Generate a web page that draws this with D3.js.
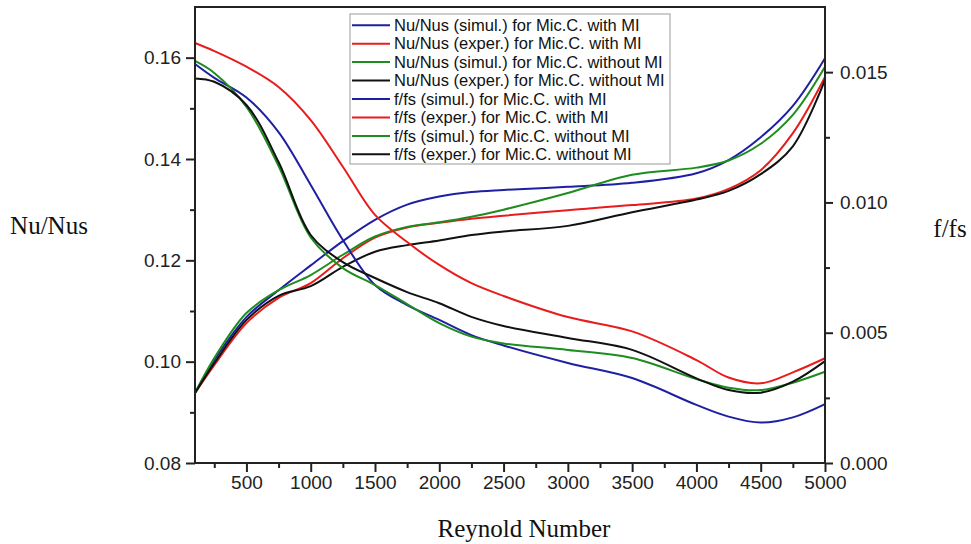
<!DOCTYPE html>
<html>
<head>
<meta charset="utf-8">
<script src="https://cdn.jsdelivr.net/npm/d3@7"></script>
<style>
  html, body { margin: 0; padding: 0; background: #fff; }
  svg { display: block; }
  .tick text { font-family: "Liberation Sans", Arial, sans-serif; font-size: 19px; fill: #222; }
</style>
</head>
<body>
<svg id="chart" width="971" height="544"></svg>
<script>
// ---- Data ----
const reynolds = [100, 250, 500, 750, 1000, 1250, 1500, 1750, 2000, 2250, 2500, 3000, 3500, 4000, 4250, 4500, 4750, 5000];

// Nu/Nus (left axis)
const nuSimWithMI    = [0.0938, 0.1003, 0.1088, 0.1141, 0.1190, 0.1238, 0.1280, 0.1310, 0.1326, 0.1335, 0.1339, 0.1345, 0.1353, 0.1372, 0.1398, 0.1443, 0.1505, 0.1599];
const nuExpWithMI    = [0.0938, 0.0993, 0.1076, 0.1126, 0.1155, 0.1204, 0.1245, 0.1265, 0.1274, 0.1282, 0.1288, 0.1299, 0.1309, 0.1322, 0.1341, 0.1378, 0.1451, 0.1562];
const nuSimWithoutMI = [0.0938, 0.1007, 0.1096, 0.1141, 0.1171, 0.1211, 0.1247, 0.1266, 0.1275, 0.1286, 0.1300, 0.1333, 0.1369, 0.1383, 0.1397, 0.1430, 0.1487, 0.1582];
const nuExpWithoutMI = [0.0938, 0.0997, 0.1082, 0.1130, 0.1149, 0.1187, 0.1217, 0.1230, 0.1239, 0.1250, 0.1257, 0.1268, 0.1295, 0.1320, 0.1337, 0.1370, 0.1425, 0.1556];

// f/fs (right axis)
const fSimWithMI    = [0.01531, 0.01478, 0.01403, 0.01270, 0.01067, 0.00856, 0.00683, 0.00606, 0.00549, 0.00491, 0.00451, 0.00384, 0.00326, 0.00223, 0.00178, 0.00155, 0.00175, 0.00226];
const fExpWithMI    = [0.01612, 0.01581, 0.01521, 0.01443, 0.01316, 0.01137, 0.00952, 0.00848, 0.00760, 0.00690, 0.00641, 0.00560, 0.00505, 0.00395, 0.00328, 0.00306, 0.00348, 0.00402];
const fSimWithoutMI = [0.01543, 0.01497, 0.01367, 0.01140, 0.00866, 0.00748, 0.00683, 0.00610, 0.00537, 0.00485, 0.00459, 0.00434, 0.00403, 0.00322, 0.00289, 0.00280, 0.00308, 0.00350];
const fExpWithoutMI = [0.01476, 0.01463, 0.01374, 0.01155, 0.00875, 0.00771, 0.00710, 0.00656, 0.00613, 0.00561, 0.00526, 0.00480, 0.00434, 0.00325, 0.00280, 0.00270, 0.00312, 0.00391];

const seriesNames = [
  "Nu/Nus (simul.) for Mic.C. with MI",
  "Nu/Nus (exper.) for Mic.C. with MI",
  "Nu/Nus (simul.) for Mic.C. without MI",
  "Nu/Nus (exper.) for Mic.C. without MI",
  "f/fs (simul.) for Mic.C. with MI",
  "f/fs (exper.) for Mic.C. with MI",
  "f/fs (simul.) for Mic.C. without MI",
  "f/fs (exper.) for Mic.C. without MI"
];
const seriesValues = [nuSimWithMI, nuExpWithMI, nuSimWithoutMI, nuExpWithoutMI, fSimWithMI, fExpWithMI, fSimWithoutMI, fExpWithoutMI];
const seriesAxis = ["left", "left", "left", "left", "right", "right", "right", "right"];

const xMajorTicks = [500, 1000, 1500, 2000, 2500, 3000, 3500, 4000, 4500, 5000];
const xMinorTicks = [250, 750, 1250, 1750, 2250, 2750, 3250, 3750, 4250, 4750];
const leftMajorTicks = [0.08, 0.10, 0.12, 0.14, 0.16];
const leftMinorTicks = [0.09, 0.11, 0.13, 0.15];
const rightMajorTicks = [0.000, 0.005, 0.010, 0.015];
const rightMinorTicks = [0.0025, 0.0075, 0.0125];

// ---- Layout ----
const svg = d3.select("#chart");
const L = 195, R = 825, T = 7, B = 463;
const colors = ["#1f1fa3", "#e91c1c", "#1e8c1e", "#111111", "#1f1fa3", "#e91c1c", "#1e8c1e", "#111111"];

const x = d3.scaleLinear().domain([100, 5000]).range([L, R]);
const yL = d3.scaleLinear().domain([0.08, 0.17]).range([B, T]);
const yR = d3.scaleLinear().domain([0, 0.0175]).range([B, T]);

// Curves
const curveType = d3.curveCatmullRom.alpha(0.5);
const lineL = d3.line().x((d) => x(d[0])).y((d) => yL(d[1])).curve(curveType);
const lineR = d3.line().x((d) => x(d[0])).y((d) => yR(d[1])).curve(curveType);

const curves = svg.append("g");
seriesValues.forEach((vals, i) => {
  const pts = reynolds.map((r, j) => [r, vals[j]]);
  curves.append("path")
    .attr("d", seriesAxis[i] === "left" ? lineL(pts) : lineR(pts))
    .attr("fill", "none")
    .attr("stroke", colors[i])
    .attr("stroke-width", 2);
});

// Axes
function styleAxis(g) {
  g.selectAll(".domain").remove();
  g.selectAll(".tick line").attr("stroke", "#222").attr("stroke-width", 2);
}

svg.append("g").attr("transform", `translate(0,${B})`)
  .call(d3.axisBottom(x).tickValues(xMajorTicks).tickSize(9).tickPadding(4).tickFormat(d3.format("d")))
  .call(styleAxis);
svg.append("g").attr("transform", `translate(0,${B})`)
  .call(d3.axisBottom(x).tickValues(xMinorTicks).tickSize(5).tickFormat(""))
  .call(styleAxis);

svg.append("g").attr("transform", `translate(${L},0)`)
  .call(d3.axisLeft(yL).tickValues(leftMajorTicks).tickSize(9).tickPadding(5).tickFormat(d3.format(".2f")))
  .call(styleAxis);
svg.append("g").attr("transform", `translate(${L},0)`)
  .call(d3.axisLeft(yL).tickValues(leftMinorTicks).tickSize(5).tickFormat(""))
  .call(styleAxis);

svg.append("g").attr("transform", `translate(${R},0)`)
  .call(d3.axisRight(yR).tickValues(rightMajorTicks).tickSize(8).tickPadding(7).tickFormat(d3.format(".3f")))
  .call(styleAxis);
svg.append("g").attr("transform", `translate(${R},0)`)
  .call(d3.axisRight(yR).tickValues(rightMinorTicks).tickSize(5).tickFormat(""))
  .call(styleAxis);

// Frame
svg.append("rect")
  .attr("x", L).attr("y", T).attr("width", R - L).attr("height", B - T)
  .attr("fill", "none").attr("stroke", "#222").attr("stroke-width", 2);

// Axis titles
const serif = "'Liberation Serif', 'DejaVu Serif', serif";
svg.append("text").attr("x", 49).attr("y", 234).attr("text-anchor", "middle")
  .style("font-family", serif).style("font-size", "25px").attr("fill", "#111").text("Nu/Nus");
svg.append("text").attr("x", 950).attr("y", 237).attr("text-anchor", "middle")
  .style("font-family", serif).style("font-size", "25px").attr("fill", "#111").text("f/fs");
svg.append("text").attr("x", 524).attr("y", 537).attr("text-anchor", "middle")
  .style("font-family", serif).style("font-size", "25px").attr("fill", "#111").text("Reynold Number");

// Legend
const legend = svg.append("g");
legend.append("rect")
  .attr("x", 350).attr("y", 14).attr("width", 320).attr("height", 150)
  .attr("fill", "#fff").attr("stroke", "#999").attr("stroke-width", 1);
seriesNames.forEach((name, i) => {
  const cy = 25.2 + i * 18.45;
  legend.append("line").attr("x1", 352).attr("x2", 390).attr("y1", cy).attr("y2", cy)
    .attr("stroke", colors[i]).attr("stroke-width", 2);
  legend.append("text").attr("x", 394).attr("y", cy).attr("dy", "0.35em")
    .style("font-family", "'Liberation Sans', Arial, sans-serif").style("font-size", "16.5px")
    .attr("fill", "#111").text(name);
});
</script>
</body>
</html>
